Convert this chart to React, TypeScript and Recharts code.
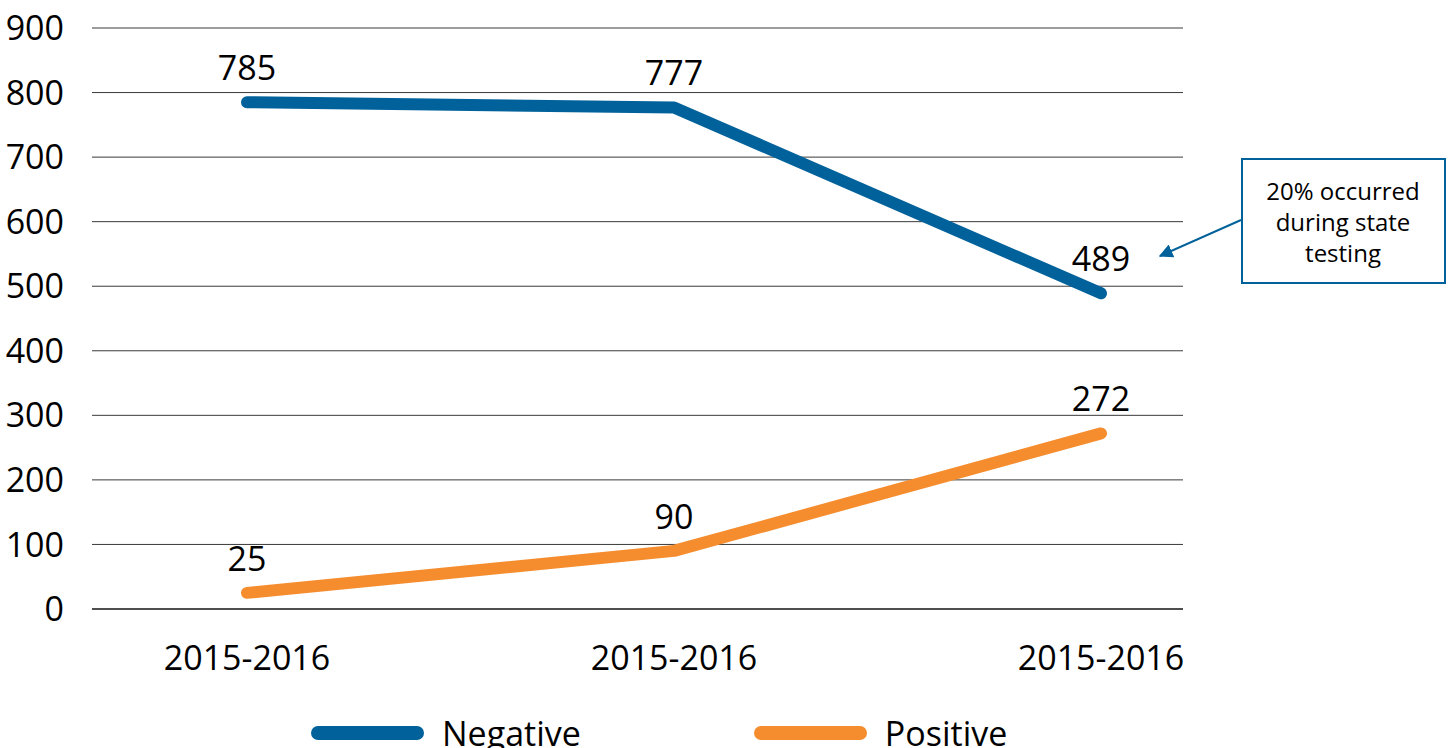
import { LineChart, Line, XAxis, YAxis, CartesianGrid, LabelList, Legend } from 'recharts'

const years = ['2015-2016', '2015-2016', '2015-2016']
const negative = [785, 777, 489]
const positive = [25, 90, 272]
const yTicks = [0, 100, 200, 300, 400, 500, 600, 700, 800, 900]
const noteLines = ['20% occurred', 'during state', 'testing']

const BLUE = '#00619b'
const ORANGE = '#f58d2f'
const FONT = '"Open Sans", "Noto Sans", sans-serif'

const data = years.map((year, i) => ({ idx: i, year, negative: negative[i], positive: positive[i] }))

function LegendContent() {
  const items = [
    { name: 'Negative', color: BLUE },
    { name: 'Positive', color: ORANGE },
  ]
  return (
    <div style={{ display: 'flex', alignItems: 'center', fontFamily: FONT, fontSize: 34, color: '#000' }}>
      {items.map((it, i) => (
        <div key={it.name} style={{ display: 'flex', alignItems: 'center', marginRight: i === 0 ? 173 : 0 }}>
          <svg width={113} height={16} style={{ marginRight: 18 }}>
            <line x1={7} y1={8} x2={106} y2={8} stroke={it.color} strokeWidth={14} strokeLinecap="round" />
          </svg>
          <span style={{ lineHeight: '40px', whiteSpace: 'nowrap' }}>{it.name}</span>
        </div>
      ))}
    </div>
  )
}

export default function App() {
  return (
    <div style={{ position: 'absolute', left: 0, top: 0, width: 1450, height: 748, overflow: 'hidden', background: '#fff' }}>
      <LineChart width={1450} height={748} data={data} margin={{ top: 28, right: 267, bottom: 0, left: 0 }}>
        <CartesianGrid vertical={false} stroke="#3a3a3a" strokeWidth={1} />
        <XAxis
          dataKey="idx"
          tickFormatter={(i: number) => years[i]}
          padding={{ left: 155, right: 82 }}
          height={139}
          tickSize={0}
          tickMargin={37}
          tickLine={false}
          axisLine={{ stroke: '#000', strokeWidth: 1 }}
          tick={{ fill: '#000', fontSize: 34, fontFamily: FONT }}
          interval={0}
        />
        <YAxis
          domain={[0, 900]}
          ticks={yTicks}
          width={92}
          tickSize={0}
          tickMargin={28}
          tickLine={false}
          axisLine={false}
          tick={{ fill: '#000', fontSize: 34, fontFamily: FONT }}
          interval={0}
        />
        <Legend
          layout="horizontal"
          verticalAlign="middle"
          align="center"
          wrapperStyle={{ left: 311, top: 713, width: 900 }}
          content={() => <LegendContent />}
        />
        <Line
          dataKey="negative"
          name="Negative"
          stroke={BLUE}
          strokeWidth={12}
          strokeLinecap="round"
          strokeLinejoin="round"
          dot={false}
          activeDot={false}
          isAnimationActive={false}
        >
          <LabelList dataKey="negative" position="top" offset={22} fill="#000" fontSize={34} fontFamily={FONT} />
        </Line>
        <Line
          dataKey="positive"
          name="Positive"
          stroke={ORANGE}
          strokeWidth={12}
          strokeLinecap="round"
          strokeLinejoin="round"
          dot={false}
          activeDot={false}
          isAnimationActive={false}
        >
          <LabelList dataKey="positive" position="top" offset={22} fill="#000" fontSize={34} fontFamily={FONT} />
        </Line>
      </LineChart>
      <svg width={1450} height={748} style={{ position: 'absolute', left: 0, top: 0, pointerEvents: 'none' }}>
        <defs>
          <marker id="arrowHead" viewBox="0 0 10 10" refX={9} refY={5} markerWidth={7} markerHeight={7} orient="auto-start-reverse">
            <path d="M0,0 L10,5 L0,10 z" fill={BLUE} />
          </marker>
        </defs>
        <line x1={1241} y1={220} x2={1160} y2={256} stroke={BLUE} strokeWidth={2} markerEnd="url(#arrowHead)" />
        <rect x={1242} y={159} width={203} height={124} fill="#fff" stroke={BLUE} strokeWidth={2} />
        {noteLines.map((t, i) => (
          <text key={i} x={1343} y={200 + i * 31} textAnchor="middle" fontSize={24} fontFamily={FONT} fill="#000">
            {t}
          </text>
        ))}
      </svg>
    </div>
  )
}
